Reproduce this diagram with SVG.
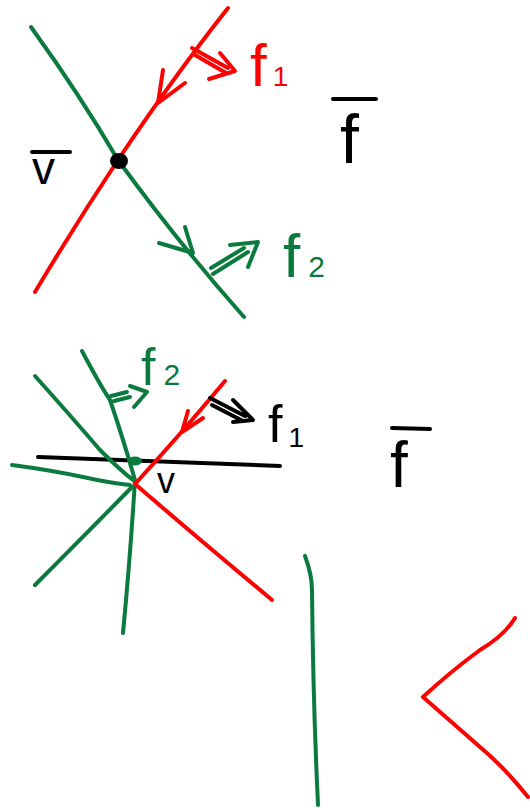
<svg xmlns="http://www.w3.org/2000/svg" width="530" height="808" viewBox="0 0 530 808">
<style>
.s{fill:none;stroke-width:4;stroke-linecap:round;stroke-linejoin:round}
.r{stroke:#ff0000}.g{stroke:#0b7a3e}.k{stroke:#000}
.t{font-family:"Liberation Sans",Arial,sans-serif}
.tr{fill:#ff0000}.tg{fill:#0b7a3e}.tk{fill:#000}
</style>
<rect width="530" height="808" fill="#fff"/>
<g id="panel1">
  <path class="s g" d="M31,27 Q80,95 118,160 Q180,245 244,317"/>
  <path class="s r" d="M228,8 Q175,75 118,160 Q75,225 35,292"/>
  <path class="s r" d="M163,70 L158,103 L185,83"/>
  <path class="s r" d="M192,48 L228,68 M195,55 L226,73 M220,53 L235,71 L209,79"/>
  <path class="s g" d="M159,243 L193,253 L185,227"/>
  <path class="s g" d="M213,274 L248,252 M211,268 L244,248 M230,245 L258,242 L248,267"/>
  <ellipse cx="119" cy="161" rx="9" ry="8" fill="#000"/>
  <line class="s k" x1="32" y1="152" x2="70" y2="152"/>
  <text class="t tk" x="32" y="184" font-size="46">v</text>
  <text class="t tr" x="250" y="86" font-size="60">f<tspan font-size="28" dx="6">1</tspan></text>
  <text class="t tg" x="283" y="277" font-size="62">f<tspan font-size="30" dx="8">2</tspan></text>
  <line class="s k" x1="333" y1="99" x2="376" y2="99"/>
  <text class="t tk" x="340" y="163" font-size="68">f</text>
</g>
<g id="panel2">
  <path class="s k" d="M38,457 L280,466"/>
  <path class="s g" d="M82,351 Q100,385 110,400 Q122,435 135,480 Q130,560 123,633"/>
  <path class="s g" d="M35,376 Q70,415 100,450 Q120,470 133,480"/>
  <path class="s g" d="M12,465 Q50,470 83,477 Q110,483 130,485"/>
  <path class="s g" d="M132,487 Q80,540 35,585"/>
  <path class="s r" d="M225,381 Q180,435 135,484 Q200,540 272,600"/>
  <path class="s r" d="M188,411 L182,432 L203,418"/>
  <path class="s k" d="M210,398 L245,416 M212,405 L243,421 M233,400 L253,420 L233,422"/>
  <path class="s g" d="M111,396 L127,392 M114,401 L130,397 M130,386 L147,392 L134,407"/>
  <ellipse cx="135" cy="461" rx="7" ry="4.5" fill="#0b7a3e"/>
  <text class="t tg" x="141" y="385" font-size="52">f<tspan font-size="30" dx="8">2</tspan></text>
  <text class="t tk" x="268" y="442" font-size="52">f<tspan font-size="28" dx="6" dy="5">1</tspan></text>
  <text class="t tk" x="157" y="493" font-size="36">v</text>
  <line class="s k" x1="392" y1="428" x2="430" y2="429"/>
  <text class="t tk" x="390" y="487" font-size="64">f</text>
</g>
<g id="panel3">
  <path class="s g" d="M305,556 Q312,575 312,590 Q313,700 318,805"/>
  <path class="s r" d="M515,618 Q505,635 480,650 Q450,672 423,697 Q455,725 480,747 Q505,768 528,797"/>
</g>
</svg>
